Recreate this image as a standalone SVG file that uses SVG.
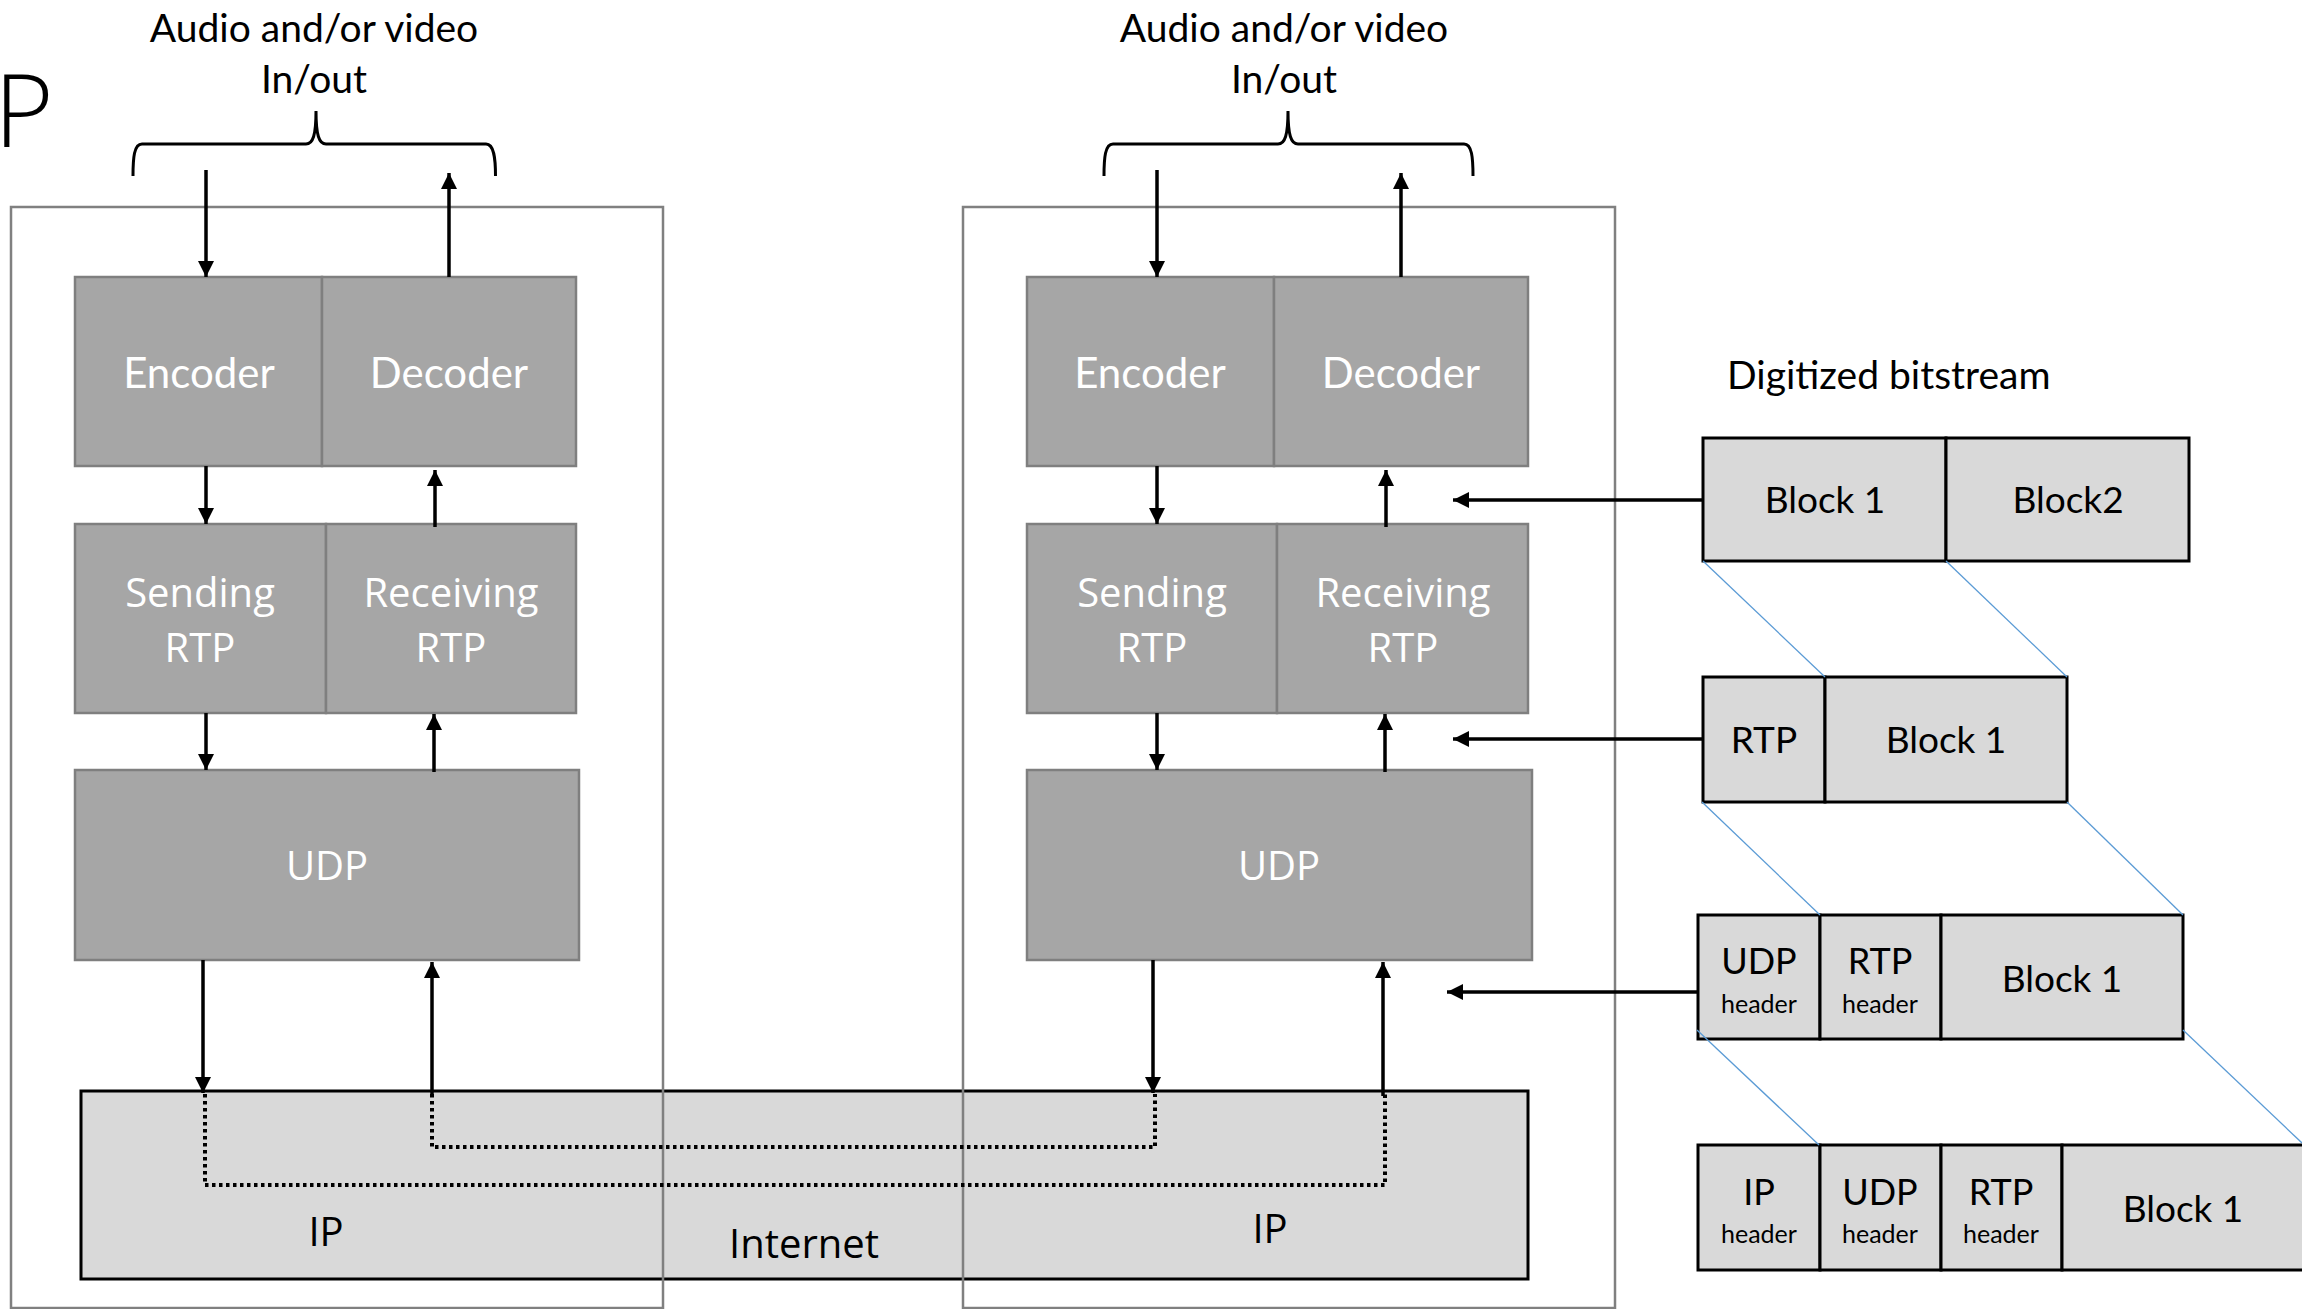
<svg xmlns="http://www.w3.org/2000/svg" width="2302" height="1309" viewBox="0 0 2302 1309">
  <style>
    .frame { fill: none; stroke: #808080; stroke-width: 2.5; }
    .dark { fill: #a6a6a6; stroke: #7f7f7f; stroke-width: 2.5; }
    .light { fill: #d9d9d9; stroke: #000; stroke-width: 3; }
    .wlabel { font-family: "Open Sans", "Noto Sans", sans-serif; font-size: 40px; fill: #fff; text-anchor: middle; }
    .wcal { font-family: Lato, "Noto Sans", sans-serif; font-size: 42px; fill: #fff; text-anchor: middle; }
    .blabel { font-family: "Open Sans", "Noto Sans", sans-serif; font-size: 40px; fill: #000; text-anchor: middle; }
    .cal { font-family: Lato, "Noto Sans", sans-serif; fill: #000; text-anchor: middle; }
    .cal-start { font-family: Lato, "Noto Sans", sans-serif; fill: #000; text-anchor: start; }
    .arrow { stroke: #000; stroke-width: 3.5; fill: none; marker-end: url(#head); }
    .dots { stroke: #000; stroke-width: 4; fill: none; stroke-dasharray: 3.5 3.5; }
    .brace { stroke: #000; stroke-width: 3; fill: none; }
    .guide { stroke: #5b9bd5; stroke-width: 1.3; fill: none; }
  </style>
  <defs>
    <marker id="head" markerUnits="userSpaceOnUse" markerWidth="18" markerHeight="18" refX="16" refY="8" orient="auto">
      <path d="M0,0 L16,8 L0,16 z" fill="#000"/>
    </marker>
  </defs>

  <rect width="2302" height="1309" fill="#fff"/>

  <!-- partly visible title letter -->
  <text x="-6" y="147" font-family="'Open Sans', sans-serif" font-weight="300" font-size="102" fill="#000">P</text>

  <!-- shared network layer -->
  <g id="ip-internet">
    <rect class="light" x="81" y="1091" width="1447" height="188"/>
    <text class="blabel" x="326" y="1246">IP</text>
    <text class="blabel" x="1270" y="1243">IP</text>
    <text class="blabel" x="804" y="1258" font-size="41">Internet</text>
  </g>

  <!-- left host -->
  <g id="host-left">
    <rect class="frame" x="11" y="207" width="652" height="1101"/>
    <g id="left-codec">
      <rect class="dark" x="75" y="277" width="247" height="189"/>
      <rect class="dark" x="322" y="277" width="254" height="189"/>
      <text class="wcal" x="199" y="388">Encoder</text>
      <text class="wcal" x="449" y="388">Decoder</text>
    </g>
    <g id="left-rtp">
      <rect class="dark" x="75" y="524" width="251" height="189"/>
      <rect class="dark" x="326" y="524" width="250" height="189"/>
      <text class="wlabel" x="200" y="607">Sending</text>
      <text class="wlabel" x="200" y="662">RTP</text>
      <text class="wlabel" x="451" y="607">Receiving</text>
      <text class="wlabel" x="451" y="662">RTP</text>
    </g>
    <g id="left-udp">
      <rect class="dark" x="75" y="770" width="504" height="190"/>
      <text class="wlabel" x="327" y="880">UDP</text>
    </g>
    <g id="left-io">
      <path class="brace" d="M133,176 C133,158 134,144 142,144 L306,144 C313,144 316,135 316,111 C316,135 319,144 326,144 L486,144 C494,144 495.5,158 495.5,176"/>
      <text class="cal" x="314" y="42" font-size="39">Audio and/or video</text>
      <text class="cal" x="314" y="93" font-size="39">In/out</text>
    </g>
  </g>

  <!-- right host -->
  <g id="host-right">
    <rect class="frame" x="963" y="207" width="652" height="1101"/>
    <g id="right-codec">
      <rect class="dark" x="1027" y="277" width="247" height="189"/>
      <rect class="dark" x="1274" y="277" width="254" height="189"/>
      <text class="wcal" x="1150" y="388">Encoder</text>
      <text class="wcal" x="1401" y="388">Decoder</text>
    </g>
    <g id="right-rtp">
      <rect class="dark" x="1027" y="524" width="250" height="189"/>
      <rect class="dark" x="1277" y="524" width="251" height="189"/>
      <text class="wlabel" x="1152" y="607">Sending</text>
      <text class="wlabel" x="1403" y="607">Receiving</text>
      <text class="wlabel" x="1152" y="662">RTP</text>
      <text class="wlabel" x="1403" y="662">RTP</text>
    </g>
    <g id="right-udp">
      <rect class="dark" x="1027" y="770" width="505" height="190"/>
      <text class="wlabel" x="1279" y="880">UDP</text>
    </g>
    <g id="right-io">
      <path class="brace" d="M1104,176 C1104,158 1105,144 1113,144 L1278,144 C1285,144 1288,135 1288,111 C1288,135 1291,144 1298,144 L1464,144 C1472,144 1473,158 1473,176"/>
      <text class="cal" x="1284" y="42" font-size="39">Audio and/or video</text>
      <text class="cal" x="1284" y="93" font-size="39">In/out</text>
    </g>
  </g>

  <!-- packet build-up -->
  <g id="bitstream-title">
    <text class="cal-start" x="1727" y="389" font-size="39">Digitized bitstream</text>
  </g>
  <g id="row-payload">
    <rect class="light" x="1703" y="438" width="243" height="123"/>
    <rect class="light" x="1946" y="438" width="243" height="123"/>
    <text class="cal" x="1825" y="513" font-size="37">Block 1</text>
    <text class="cal" x="2068" y="513" font-size="37">Block2</text>
  </g>
  <g id="row-rtp">
    <rect class="light" x="1703" y="677" width="122" height="125"/>
    <rect class="light" x="1825" y="677" width="242" height="125"/>
    <text class="cal" x="1764" y="753" font-size="37">RTP</text>
    <text class="cal" x="1946" y="753" font-size="37">Block 1</text>
  </g>
  <g id="row-udp">
    <rect class="light" x="1698" y="915" width="122" height="124"/>
    <rect class="light" x="1820" y="915" width="121" height="124"/>
    <rect class="light" x="1941" y="915" width="242" height="124"/>
    <text class="cal" x="1759" y="974" font-size="36">UDP</text>
    <text class="cal" x="1759" y="1013" font-size="25">header</text>
    <text class="cal" x="1880" y="974" font-size="36">RTP</text>
    <text class="cal" x="1880" y="1013" font-size="25">header</text>
    <text class="cal" x="2062" y="992" font-size="37">Block 1</text>
  </g>
  <g id="row-ip">
    <rect class="light" x="1698" y="1145" width="122" height="125"/>
    <rect class="light" x="1820" y="1145" width="121" height="125"/>
    <rect class="light" x="1941" y="1145" width="121" height="125"/>
    <rect class="light" x="2062" y="1145" width="260" height="125"/>
    <text class="cal" x="1759" y="1205" font-size="36">IP</text>
    <text class="cal" x="1759" y="1243" font-size="25">header</text>
    <text class="cal" x="1880" y="1205" font-size="36">UDP</text>
    <text class="cal" x="1880" y="1243" font-size="25">header</text>
    <text class="cal" x="2001" y="1205" font-size="36">RTP</text>
    <text class="cal" x="2001" y="1243" font-size="25">header</text>
    <text class="cal" x="2183" y="1222" font-size="37">Block 1</text>
  </g>

  <!-- connectors -->
  <g id="connectors">
    <!-- left host stack -->
    <line class="arrow" x1="206" y1="170" x2="206" y2="277"/>
    <line class="arrow" x1="449" y1="277" x2="449" y2="173"/>
    <line class="arrow" x1="206" y1="466" x2="206" y2="524"/>
    <line class="arrow" x1="435" y1="527" x2="435" y2="470"/>
    <line class="arrow" x1="206" y1="713" x2="206" y2="770"/>
    <line class="arrow" x1="434" y1="772" x2="434" y2="714"/>
    <line class="arrow" x1="203" y1="960" x2="203" y2="1093"/>
    <line class="arrow" x1="432" y1="1096" x2="432" y2="962"/>
    <!-- right host stack -->
    <line class="arrow" x1="1157" y1="170" x2="1157" y2="277"/>
    <line class="arrow" x1="1401" y1="277" x2="1401" y2="173"/>
    <line class="arrow" x1="1157" y1="466" x2="1157" y2="524"/>
    <line class="arrow" x1="1386" y1="527" x2="1386" y2="470"/>
    <line class="arrow" x1="1157" y1="713" x2="1157" y2="770"/>
    <line class="arrow" x1="1385" y1="772" x2="1385" y2="714"/>
    <line class="arrow" x1="1153" y1="960" x2="1153" y2="1093"/>
    <line class="arrow" x1="1383" y1="1096" x2="1383" y2="962"/>
    <!-- paths through the network -->
    <path class="dots" d="M205,1094 L205,1185 L1385,1185 L1385,1094"/>
    <path class="dots" d="M432,1094 L432,1147 L1155,1147 L1155,1094"/>
    <!-- packet rows feeding the right host -->
    <line class="arrow" x1="1703" y1="500" x2="1453" y2="500"/>
    <line class="arrow" x1="1703" y1="739" x2="1453" y2="739"/>
    <line class="arrow" x1="1698" y1="992" x2="1447" y2="992"/>
    <!-- encapsulation guides -->
    <line class="guide" x1="1703" y1="561" x2="1825" y2="677"/>
    <line class="guide" x1="1946" y1="561" x2="2067" y2="677"/>
    <line class="guide" x1="1702" y1="802" x2="1820" y2="915"/>
    <line class="guide" x1="2067" y1="802" x2="2183" y2="915"/>
    <line class="guide" x1="1697" y1="1030" x2="1819" y2="1145"/>
    <line class="guide" x1="2183" y1="1030" x2="2302" y2="1143"/>
  </g>
</svg>
